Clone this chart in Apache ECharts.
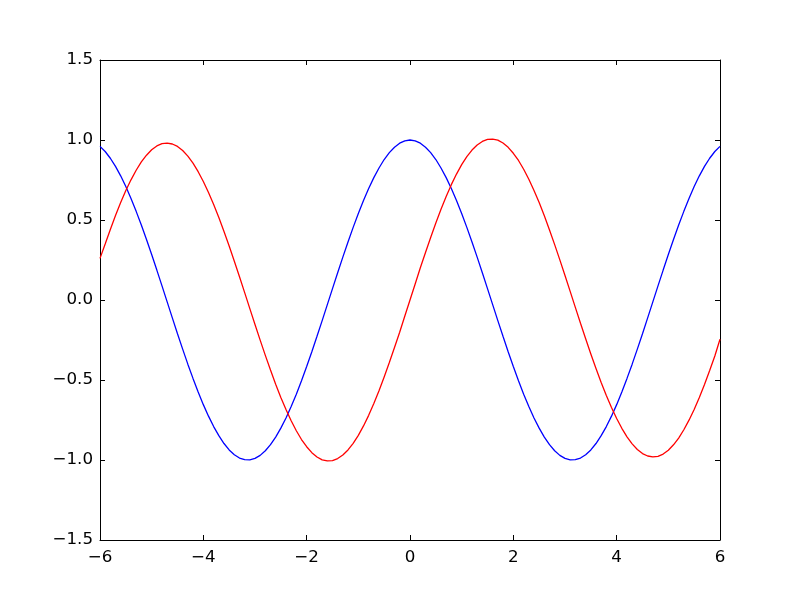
<!DOCTYPE html>
<html>
<head>
<meta charset="utf-8">
<script src="https://cdn.jsdelivr.net/npm/echarts@6/dist/echarts.min.js"></script>
<style>html,body{margin:0;padding:0;background:#fff}#c{width:800px;height:600px}</style>
</head>
<body>
<div id="c"></div>
<script>
var xValues = [
-6.0,-5.9,-5.8,-5.7,-5.6,-5.5,-5.4,-5.3,-5.2,-5.1,
-5.0,-4.9,-4.8,-4.7,-4.6,-4.5,-4.4,-4.3,-4.2,-4.1,
-4.0,-3.9,-3.8,-3.7,-3.6,-3.5,-3.4,-3.3,-3.2,-3.1,
-3.0,-2.9,-2.8,-2.7,-2.6,-2.5,-2.4,-2.3,-2.2,-2.1,
-2.0,-1.9,-1.8,-1.7,-1.6,-1.5,-1.4,-1.3,-1.2,-1.1,
-1.0,-0.9,-0.8,-0.7,-0.6,-0.5,-0.4,-0.3,-0.2,-0.1,
0,
0.1,0.2,0.3,0.4,0.5,0.6,0.7,0.8,0.9,1.0,
1.1,1.2,1.3,1.4,1.5,1.6,1.7,1.8,1.9,2.0,
2.1,2.2,2.3,2.4,2.5,2.6,2.7,2.8,2.9,3.0,
3.1,3.2,3.3,3.4,3.5,3.6,3.7,3.8,3.9,4.0,
4.1,4.2,4.3,4.4,4.5,4.6,4.7,4.8,4.9,5.0,
5.1,5.2,5.3,5.4,5.5,5.6,5.7,5.8,5.9,6.0];
var blueValues = [
0.960,0.928,0.886,0.835,0.776,0.709,0.635,0.554,0.469,0.378,
0.284,0.187,0.088,-0.012,-0.112,-0.211,-0.307,-0.401,-0.490,-0.575,
-0.654,-0.726,-0.791,-0.848,-0.897,-0.937,-0.967,-0.988,-0.998,-0.999,
-0.990,-0.971,-0.942,-0.904,-0.857,-0.801,-0.737,-0.666,-0.589,-0.505,
-0.416,-0.323,-0.227,-0.129,-0.029,0.071,0.170,0.268,0.362,0.454,
0.540,0.622,0.697,0.765,0.825,0.878,0.921,0.955,0.980,0.995,
1.000,
0.995,0.980,0.955,0.921,0.878,0.825,0.765,0.697,0.622,0.540,
0.454,0.362,0.268,0.170,0.071,-0.029,-0.129,-0.227,-0.323,-0.416,
-0.505,-0.589,-0.666,-0.737,-0.801,-0.857,-0.904,-0.942,-0.971,-0.990,
-0.999,-0.998,-0.988,-0.967,-0.937,-0.897,-0.848,-0.791,-0.726,-0.654,
-0.575,-0.490,-0.401,-0.307,-0.211,-0.112,-0.012,0.088,0.187,0.284,
0.378,0.469,0.554,0.635,0.709,0.776,0.835,0.886,0.928,0.960];
var redValues = [
0.260,0.350,0.441,0.528,0.609,0.684,0.751,0.811,0.863,0.905,
0.939,0.963,0.977,0.981,0.975,0.960,0.934,0.899,0.855,0.802,
0.741,0.672,0.597,0.515,0.428,0.337,0.242,0.145,0.046,-0.054,
-0.153,-0.251,-0.346,-0.438,-0.526,-0.609,-0.685,-0.755,-0.817,-0.872,
-0.917,-0.954,-0.981,-0.999,-1.006,-1.004,-0.991,-0.969,-0.937,-0.896,
-0.846,-0.787,-0.721,-0.647,-0.567,-0.481,-0.391,-0.297,-0.202,-0.100,
0,
0.100,0.202,0.297,0.391,0.481,0.567,0.647,0.721,0.787,0.846,
0.896,0.937,0.969,0.991,1.004,1.006,0.999,0.981,0.954,0.917,
0.872,0.817,0.755,0.685,0.609,0.526,0.438,0.346,0.251,0.153,
0.054,-0.046,-0.145,-0.242,-0.337,-0.428,-0.515,-0.597,-0.672,-0.741,
-0.802,-0.855,-0.899,-0.934,-0.960,-0.975,-0.981,-0.977,-0.963,-0.939,
-0.905,-0.863,-0.811,-0.751,-0.684,-0.609,-0.528,-0.441,-0.350,-0.245];
var xTicks = {min: -6, max: 6, interval: 2};
var yTicks = {min: -1.5, max: 1.5, interval: 0.5};

function pairs(ys){ return xValues.map(function(x,i){ return [x, ys[i]]; }); }
function minus(s){ return String(s).replace('-', '\u2212'); }

var font = {fontFamily: 'DejaVu Sans', fontSize: 16.7, color: '#000'};
var axisLine = {show: true, onZero: false, lineStyle: {color: '#000', width: 1}};
var tick = {show: true, inside: true, length: 5, lineStyle: {color: '#000', width: 1}};

function xAxis(pos, showLabel){
  return {type: 'value', position: pos, min: xTicks.min, max: xTicks.max, interval: xTicks.interval,
    axisLine: axisLine, axisTick: tick, splitLine: {show: false},
    axisLabel: Object.assign({show: showLabel, margin: 9, formatter: function(v){ return minus(v); }}, font)};
}
function yAxis(pos, showLabel){
  return {type: 'value', position: pos, min: yTicks.min, max: yTicks.max, interval: yTicks.interval,
    axisLine: axisLine, axisTick: tick, splitLine: {show: false},
    axisLabel: Object.assign({show: showLabel, margin: 7, formatter: function(v){ return minus(v.toFixed(1)); }}, font)};
}

var chart = echarts.init(document.getElementById('c'), null, {renderer: 'canvas'});
chart.setOption({
  animation: false,
  backgroundColor: '#fff',
  grid: {left: 100, right: 80, top: 60, bottom: 60, containLabel: false},
  xAxis: [xAxis('bottom', true), xAxis('top', false)],
  yAxis: [yAxis('left', true), yAxis('right', false)],
  series: [
    {type: 'line', data: pairs(blueValues), smooth: false, showSymbol: false, symbol: 'none',
     lineStyle: {color: '#0000ff', width: 1.3}, itemStyle: {color: '#0000ff'}, clip: true},
    {type: 'line', data: pairs(redValues), smooth: false, showSymbol: false, symbol: 'none',
     lineStyle: {color: '#ff0000', width: 1.3}, itemStyle: {color: '#ff0000'}, clip: true}
  ]
});
</script>
</body>
</html>
